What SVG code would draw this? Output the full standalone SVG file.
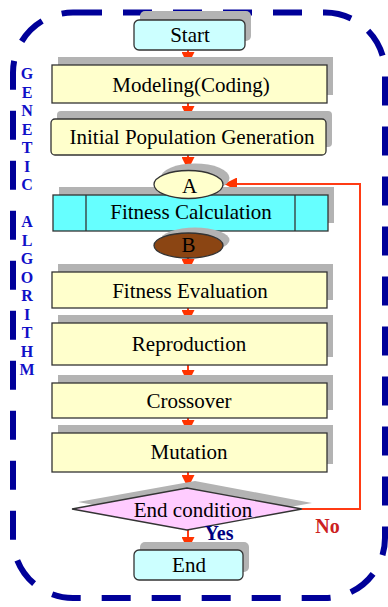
<svg xmlns="http://www.w3.org/2000/svg" width="388" height="607" viewBox="0 0 388 607">
<style>
.lbl{font-family:"Liberation Serif","Times New Roman",serif;font-size:21px;fill:#000;text-anchor:middle}
.sh{fill:#b3b3b3;stroke:none}
.box{stroke:#333;stroke-width:1.3}
.y{fill:#ffffcc}
.c{fill:#ccffff}
.fc{fill:#66ffff}
.conn{stroke:#ff3b14;stroke-width:2;fill:none}
.ga{font-family:"Liberation Serif","Times New Roman",serif;font-size:16px;font-weight:bold;fill:#1010c8;text-anchor:middle}
</style>
<defs>
<marker id="ah" viewBox="0 0 13 13" refX="13" refY="6.5" markerWidth="13" markerHeight="13" markerUnits="userSpaceOnUse" orient="auto">
<path d="M0,0 L13,6.5 L0,13 z" fill="#ff3300"/>
</marker>
</defs>
<rect width="388" height="607" fill="#ffffff"/>
<g id="frame">
<rect x="13" y="12.5" width="372" height="585.5" rx="60" ry="60" fill="none" stroke="#000099" stroke-width="6" stroke-dasharray="29 21"/>
</g>
<g id="title">
<text class="ga"><tspan x="27" y="79">G</tspan><tspan x="27" y="97.5">E</tspan><tspan x="27" y="116">N</tspan><tspan x="27" y="134.5">E</tspan><tspan x="27" y="153">T</tspan><tspan x="27" y="171.5">I</tspan><tspan x="27" y="190">C</tspan><tspan x="27" y="227">A</tspan><tspan x="27" y="245.5">L</tspan><tspan x="27" y="264">G</tspan><tspan x="27" y="282.5">O</tspan><tspan x="27" y="301">R</tspan><tspan x="27" y="319.5">I</tspan><tspan x="27" y="338">T</tspan><tspan x="27" y="356.5">H</tspan><tspan x="27" y="375">M</tspan></text>
</g>
<g id="connectors">
<path class="conn" d="M188,50 V65" marker-end="url(#ah)"/>
<path class="conn" d="M188,103 V119" marker-end="url(#ah)"/>
<path class="conn" d="M188,155 V170" marker-end="url(#ah)"/>
<path class="conn" d="M188,258 V272" marker-end="url(#ah)"/>
<path class="conn" d="M188,308 V323" marker-end="url(#ah)"/>
<path class="conn" d="M188,365 V383" marker-end="url(#ah)"/>
<path class="conn" d="M188,418 V433" marker-end="url(#ah)"/>
<path class="conn" d="M188,472 V488" marker-end="url(#ah)"/>
<path class="conn" d="M188,530 V550" marker-end="url(#ah)"/>
<path class="conn" stroke-width="2.5" d="M302,509 H360 V184 H224" marker-end="url(#ah)"/>
</g>
<g id="start">
<rect class="sh" x="140" y="11" width="111" height="30" rx="5"/>
<rect class="box c" x="134" y="20" width="111" height="30" rx="5"/>
<text class="lbl" x="190" y="42">Start</text>
</g>
<g id="modeling">
<rect class="sh" x="58" y="57" width="275" height="38"/>
<rect class="box y" x="52" y="65" width="275" height="38"/>
<text class="lbl" x="191" y="92">Modeling(Coding)</text>
</g>
<g id="initial">
<rect class="sh" x="57" y="111" width="275" height="36" rx="4"/>
<rect class="box y" x="51" y="119" width="275" height="36" rx="4"/>
<text class="lbl" x="192" y="144">Initial Population Generation</text>
</g>
<g id="fitcalc">
<rect class="sh" x="59" y="187" width="275" height="36"/>
<rect class="box fc" x="53" y="195" width="275" height="36"/>
<line class="box" x1="86" y1="195" x2="86" y2="231"/>
<line class="box" x1="295" y1="195" x2="295" y2="231"/>
<text class="lbl" x="191" y="219">Fitness Calculation</text>
</g>
<g id="a">
<ellipse class="sh" cx="195" cy="178" rx="34.5" ry="14.5"/>
<ellipse class="box y" cx="188.5" cy="184.5" rx="34.5" ry="14"/>
<text class="lbl" x="189.5" y="193">A</text>
</g>
<g id="b">
<ellipse class="sh" cx="195" cy="240" rx="34.5" ry="12.5"/>
<ellipse class="box" fill="#8b4513" cx="188.5" cy="245.5" rx="34.5" ry="12.5"/>
<text class="lbl" x="188.5" y="252">B</text>
</g>
<g id="fiteval">
<rect class="sh" x="58" y="264" width="275" height="36"/>
<rect class="box y" x="52" y="272" width="275" height="36"/>
<text class="lbl" x="190" y="298">Fitness Evaluation</text>
</g>
<g id="repro">
<rect class="sh" x="58" y="315" width="275" height="42"/>
<rect class="box y" x="52" y="323" width="275" height="42"/>
<text class="lbl" x="189" y="351">Reproduction</text>
</g>
<g id="cross">
<rect class="sh" x="58" y="375" width="275" height="35"/>
<rect class="box y" x="52" y="383" width="275" height="35"/>
<text class="lbl" x="189" y="408">Crossover</text>
</g>
<g id="mut">
<rect class="sh" x="58" y="425" width="275" height="39"/>
<rect class="box y" x="52" y="433" width="275" height="39"/>
<text class="lbl" x="189" y="459">Mutation</text>
</g>
<g id="endcond">
<polygon class="sh" points="78,502 195,481 312,503 195,524"/>
<polygon class="box" fill="#ffccff" points="72,509 187,488 302,509 187,530"/>
<text class="lbl" x="193" y="517">End condition</text>
</g>
<g id="end">
<rect class="sh" x="140" y="542" width="109" height="30" rx="5"/>
<rect class="box c" x="134" y="550" width="109" height="30" rx="5"/>
<text class="lbl" x="189" y="572">End</text>
</g>
<g id="labels">
<text x="219" y="540" font-family="Liberation Serif, serif" font-size="20" font-weight="bold" fill="#000080" text-anchor="middle">Yes</text>
<text x="327.5" y="533" font-family="Liberation Serif, serif" font-size="20" font-weight="bold" fill="#cc2020" text-anchor="middle">No</text>
</g>
</svg>
